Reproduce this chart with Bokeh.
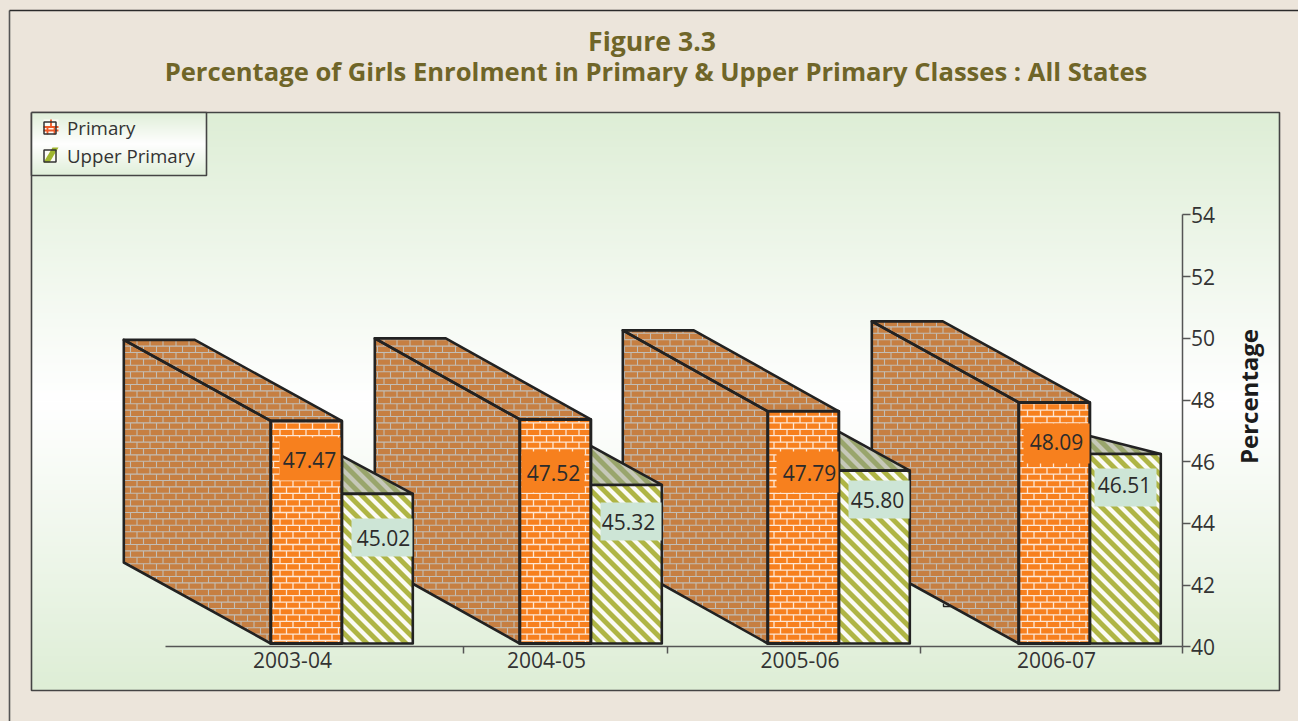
import numpy as np
from bokeh.core.properties import value
from bokeh.embed import file_html
from bokeh.models import ColumnDataSource, FixedTicker, Legend, LegendItem, LinearAxis, Range1d
from bokeh.plotting import figure
from bokeh.resources import INLINE

# ---- data ----
years = ["2003-04", "2004-05", "2005-06", "2006-07"]
primary = [47.47, 47.52, 47.79, 48.09]
upper = [45.02, 45.32, 45.80, 46.36]      # bar heights as drawn
primary_labels = ["47.47", "47.52", "47.79", "48.09"]
upper_labels = ["45.02", "45.32", "45.80", "46.51"]
y_ticks = [40, 42, 44, 46, 48, 50, 52, 54]

# ---- layout (page pixels) ----
W, H = 1298, 721
BEIGE = "#ece5db"
INK = "#222222"
bar_left = [270.3, 519.3, 767.3, 1018.3]
bar_w = 71
depth_dx = [-147, -145, -145, -147]
dy_px = 81
tri_rise = [38, 39, 39, 18]
year_x = [292, 546, 799.5, 1056]
sep_x = [462.5, 666.5, 919.5]
AX_X = 1181.5
prim_box = [(279, 340, 437, 480), (521, 584, 451, 492), (776, 838, 451, 492), (1023, 1089, 423, 463)]
prim_txt = [(309, 459), (553, 472), (809, 472), (1056, 441)]
up_box = [(351, 412, 518, 556), (600, 661, 502, 540), (848, 909, 480, 518), (1094, 1156, 468, 506)]
up_txt = [(383, 537), (628, 521), (877, 499), (1124, 484)]

axis_k = (646.4 - 214.4) / 14.0
front_k = 29.8
y0 = 40 - (H - 646.4) / axis_k
y1 = 40 + 646.4 / axis_k
f0 = 40 - (H - 643) / front_k
f1 = 40 + 643 / front_k


def fy(v):
    """Page y of a height on the front plane of the bars."""
    return 643 - (v - 40) * front_k


p = figure(width=W, height=H, x_range=Range1d(0, W), y_range=Range1d(y0, y1),
           output_backend="svg", toolbar_location=None, x_axis_type=None, y_axis_type=None,
           min_border=0, outline_line_color=None, background_fill_color=BEIGE,
           border_fill_color=BEIGE)
p.xgrid.visible = False
p.ygrid.visible = False
p.extra_y_ranges = {"front": Range1d(f0, f1), "page": Range1d(H, 0)}


# ---- clipping helpers for the surface patterns ----
def clip_poly(subject, clipper):
    out = list(subject)
    n = len(clipper)
    area = sum(clipper[i][0] * clipper[(i + 1) % n][1] - clipper[(i + 1) % n][0] * clipper[i][1] for i in range(n))
    sgn = 1 if area > 0 else -1
    for i in range(n):
        a, b = clipper[i], clipper[(i + 1) % n]
        def side(q):
            return sgn * ((b[0] - a[0]) * (q[1] - a[1]) - (b[1] - a[1]) * (q[0] - a[0]))
        cur, out = out, []
        for j in range(len(cur)):
            s, e = cur[j], cur[(j + 1) % len(cur)]
            ss, se = side(s), side(e)
            if ss >= 0:
                out.append(s)
            if (ss >= 0) != (se >= 0):
                t = ss / (ss - se)
                out.append((s[0] + t * (e[0] - s[0]), s[1] + t * (e[1] - s[1])))
        if not out:
            return []
    return out


def clip_seg(a, b, poly):
    t0, t1 = 0.0, 1.0
    n = len(poly)
    area = sum(poly[i][0] * poly[(i + 1) % n][1] - poly[(i + 1) % n][0] * poly[i][1] for i in range(n))
    sgn = 1 if area > 0 else -1
    d = (b[0] - a[0], b[1] - a[1])
    for i in range(n):
        c, e = poly[i], poly[(i + 1) % n]
        nx, ny = -(e[1] - c[1]) * sgn, (e[0] - c[0]) * sgn
        num = nx * (a[0] - c[0]) + ny * (a[1] - c[1])
        den = nx * d[0] + ny * d[1]
        if abs(den) < 1e-9:
            if num < 0:
                return None
        else:
            t = -num / den
            if den > 0:
                t0 = max(t0, t)
            else:
                t1 = min(t1, t)
    if t0 >= t1:
        return None
    return (a[0] + t0 * d[0], a[1] + t0 * d[1]), (a[0] + t1 * d[0], a[1] + t1 * d[1])


def brick_segments(polys, bh=6.4, bw=13.0):
    x0s, y0s, x1s, y1s = [], [], [], []
    for poly in polys:
        xmin, xmax = min(q[0] for q in poly), max(q[0] for q in poly)
        ymin, ymax = min(q[1] for q in poly), max(q[1] for q in poly)
        r0 = int(np.floor(ymin / bh))
        r1 = int(np.ceil(ymax / bh))
        for r in range(r0, r1 + 1):
            yy = r * bh
            s = clip_seg((xmin, yy), (xmax, yy), poly)
            if s:
                x0s.append(s[0][0]); y0s.append(s[0][1]); x1s.append(s[1][0]); y1s.append(s[1][1])
            off = (r % 2) * bw / 2
            c = np.floor(xmin / bw) - 1
            while c * bw + off <= xmax:
                xx = c * bw + off
                s = clip_seg((xx, yy), (xx, yy + bh), poly)
                if s:
                    x0s.append(s[0][0]); y0s.append(s[0][1]); x1s.append(s[1][0]); y1s.append(s[1][1])
                c += 1
    return x0s, y0s, x1s, y1s


def stripe_polys(polys, period=13.0, width=6.0):
    xs, ys = [], []
    for poly in polys:
        xmin, xmax = min(q[0] for q in poly), max(q[0] for q in poly)
        ymin, ymax = min(q[1] for q in poly), max(q[1] for q in poly)
        k0 = int(np.floor((xmin - ymax) / period)) - 1
        k1 = int(np.ceil((xmax - ymin) / period)) + 1
        for k in range(k0, k1 + 1):
            c = k * period            # band: c <= x - y <= c + width
            band = [(ymin - 5 + c, ymin - 5), (ymin - 5 + c + width, ymin - 5),
                    (ymax + 5 + c + width, ymax + 5), (ymax + 5 + c, ymax + 5)]
            q = clip_poly(band, poly)
            if q:
                xs.append([a[0] for a in q]); ys.append([a[1] for a in q])
    return xs, ys


# ---- panel background ----
grad_rows = 289
c_g = np.array([222, 238, 214])
img = np.zeros((grad_rows, 1), dtype=np.uint32)
view = img.view(np.uint8).reshape((grad_rows, 1, 4))
for i in range(grad_rows):
    mix = min(abs(i / (grad_rows - 1) - 0.5) / 0.5, 1) ** 1.05
    view[i, 0, :3] = (255 + (c_g - 255) * mix).astype(np.uint8)
    view[i, 0, 3] = 255
p.image_rgba(image=[img], x=31, y=112, dw=1248, dh=578, y_range_name="page")
p.multi_line(xs=[[31, 31, 1279, 1279, 31]], ys=[[112, 690, 690, 112, 112]], y_range_name="page",
             line_color="#444444", line_width=1.6)
# outer frame
p.segment(x0=[9], y0=[10], x1=[9], y1=[721], y_range_name="page", line_color="#555555", line_width=1.6)
p.segment(x0=[9], y0=[10], x1=[1298], y1=[10], y_range_name="page", line_color="#2a2a2a", line_width=1.6)

# legend box background
lg_rows = 32
lg = np.zeros((lg_rows, 1), dtype=np.uint32)
lgv = lg.view(np.uint8).reshape((lg_rows, 1, 4))
for i in range(lg_rows):
    frac = i / (lg_rows - 1)                 # 0 = bottom row of the array
    mix = min(abs(frac - 0.5) / 0.5, 1)
    lgv[i, 0, :3] = (255 + (np.array([224, 240, 218]) - 255) * mix).astype(np.uint8)
    lgv[i, 0, 3] = 255
p.image_rgba(image=[lg], x=31, y=112, dw=175, dh=63, y_range_name="page")
p.multi_line(xs=[[31, 31, 206, 206, 31]], ys=[[112, 175, 175, 112, 112]], y_range_name="page",
             line_color="#444444", line_width=1.6)

# ---- axes ----
yaxis = LinearAxis(fixed_location=AX_X, ticker=FixedTicker(ticks=y_ticks), bounds=(40, 54))
yaxis.major_tick_in = 0
yaxis.major_tick_out = 8
yaxis.minor_tick_line_color = None
yaxis.axis_line_color = "#555555"
yaxis.axis_line_width = 1.5
yaxis.major_tick_line_color = "#555555"
yaxis.major_tick_line_width = 1.5
yaxis.major_label_text_font = "Open Sans"
yaxis.major_label_text_font_size = "21px"
yaxis.major_label_text_color = "#333333"
yaxis.major_label_standoff = 1
yaxis.major_label_orientation = "horizontal"
p.add_layout(yaxis, "right")

xaxis = LinearAxis(fixed_location=40, bounds=(165, AX_X),
                   ticker=FixedTicker(ticks=year_x, minor_ticks=sep_x + [AX_X]))
xaxis.major_label_overrides = dict(zip(year_x, years))
xaxis.major_tick_line_color = None
xaxis.major_tick_in = 0
xaxis.major_tick_out = 0
xaxis.minor_tick_in = 0
xaxis.minor_tick_out = 7
xaxis.minor_tick_line_color = "#555555"
xaxis.minor_tick_line_width = 1.5
xaxis.axis_line_color = "#555555"
xaxis.axis_line_width = 1.5
xaxis.major_label_text_font = "Open Sans"
xaxis.major_label_text_font_size = "21px"
xaxis.major_label_text_color = "#333333"
xaxis.major_label_standoff = -2
p.add_layout(xaxis, "below")

# ---- 3-D bars ----
depth = dy_px / front_k
xs_wall, ys_wall, xs_top, ys_top, xs_tri, ys_tri = [], [], [], [], [], []
for l, v, u, r, dx_px in zip(bar_left, primary, upper, tri_rise, depth_dx):
    xs_wall.append([l + dx_px, l, l, l + dx_px])
    ys_wall.append([v + depth, v, 40, 40 + depth])
    xs_top.append([l, l + bar_w, l + bar_w + dx_px, l + dx_px])
    ys_top.append([v, v, v + depth, v + depth])
    m = l + bar_w
    xs_tri.append([m, m + bar_w, m])
    ys_tri.append([u + r / front_k, u, u])

up_l = [l + bar_w for l in bar_left]
up_r = [l + 2 * bar_w for l in bar_left]


def page_polys(xss, yss):
    return [[(x, fy(y)) for x, y in zip(xs, ys)] for xs, ys in zip(xss, yss)]


def rect_polys(ls, rs, vs):
    return [[(a, fy(40)), (b, fy(40)), (b, fy(v)), (a, fy(v))] for a, b, v in zip(ls, rs, vs)]


line_kw = dict(line_color=INK, line_width=2.6, line_join="round")
seg_kw = dict(y_range_name="page", line_cap="butt")

# walls and tops of the primary bars
p.patches(xs_wall + xs_top, ys_wall + ys_top, y_range_name="front", fill_color="#c67f42", line_color=None)
x0s, y0s, x1s, y1s = brick_segments(page_polys(xs_wall + xs_top, ys_wall + ys_top))
p.segment(x0s, y0s, x1s, y1s, line_color="#c2bdb5", line_width=1.1, **seg_kw)
p.patches(xs_wall + xs_top, ys_wall + ys_top, y_range_name="front", fill_alpha=0, **line_kw)

# visible part of the top of the upper-primary bars
p.patches(xs_tri, ys_tri, y_range_name="front", fill_color="#99a56c", line_color=None)
sx, sy = stripe_polys(page_polys(xs_tri, ys_tri))
p.patches(sx, sy, y_range_name="page", fill_color="#c6c8b8", line_color=None)
p.patches(xs_tri, ys_tri, y_range_name="front", fill_alpha=0, **line_kw)

# upper-primary fronts
p.quad(left=up_l, right=up_r, bottom=[40] * 4, top=upper, y_range_name="front", fill_color="#afb545", line_color=None)
sx, sy = stripe_polys(rect_polys(up_l, up_r, upper))
p.patches(sx, sy, y_range_name="page", fill_color="#fbfbf5", line_color=None)
p.quad(left=up_l, right=up_r, bottom=[40] * 4, top=upper, y_range_name="front", fill_alpha=0, **line_kw)

# primary fronts
p.quad(left=bar_left, right=up_l, bottom=[40] * 4, top=primary, y_range_name="front", fill_color="#f7801e", line_color=None)
x0s, y0s, x1s, y1s = brick_segments(rect_polys(bar_left, up_l, primary))
p.segment(x0s, y0s, x1s, y1s, line_color="#fde6d4", line_width=1.3, **seg_kw)
p.quad(left=bar_left, right=up_l, bottom=[40] * 4, top=primary, y_range_name="front", fill_alpha=0,
       line_color=INK, line_width=3, line_join="round")

# small stray mark
p.line(x=[943, 943, 950], y=[603, 606, 606], y_range_name="page", line_color=INK, line_width=1.4)

# ---- value labels ----
p.quad(left=[b[0] for b in prim_box], right=[b[1] for b in prim_box],
       top=[b[2] for b in prim_box], bottom=[b[3] for b in prim_box], y_range_name="page",
       fill_color="#f7801e", line_color=None)
p.quad(left=[b[0] for b in up_box], right=[b[1] for b in up_box],
       top=[b[2] for b in up_box], bottom=[b[3] for b in up_box], y_range_name="page",
       fill_color="#cde5d6", line_color=None)
lab_kw = dict(text_font=value("Open Sans"), text_font_size="21px", text_color="#2b2b2b",
              text_align="center", text_baseline="middle", y_range_name="page")
p.text(x=[a[0] for a in prim_txt], y=[a[1] for a in prim_txt], text=primary_labels, **lab_kw)
p.text(x=[a[0] for a in up_txt], y=[a[1] for a in up_txt], text=upper_labels, **lab_kw)

# ---- titles ----
ttl = dict(text_font=value("Open Sans"), text_font_style="bold", text_color="#6f6528",
           text_align="center", text_baseline="middle", y_range_name="page")
p.text(x=[651.5], y=[40], text=["Figure 3.3"], text_font_size="26.6px", **ttl)
p.text(x=[655.5], y=[70.5], text=["Percentage of Girls Enrolment in Primary & Upper Primary Classes : All States"],
       text_font_size="25.6px", **ttl)
p.text(x=[1248], y=[396], text=["Percentage"], angle=np.pi / 2, text_font=value("Open Sans"),
       text_font_style="bold", text_font_size="24px", text_color="#1c1c1c",
       text_align="center", text_baseline="middle", y_range_name="page")

# ---- legend ----
p.quad(left=[43, 43], right=[58, 58], top=[119, 147], bottom=[134, 162], y_range_name="page",
       fill_color="#fbfbf5", line_color=None)
p.segment(x0=[43, 50.5, 43, 47, 54], y0=[126.5, 119, 130, 126.5, 126.5], x1=[58, 50.5, 58, 47, 54], y1=[126.5, 126.5, 130, 134, 134],
          y_range_name="page", line_color="#ef5a28", line_width=1.8)
p.patches(xs=[[43, 52, 58, 49]], ys=[[162, 147, 147, 162]], y_range_name="page", fill_color="#9fb52f", line_color=None)
empty = ColumnDataSource(dict(l=[-50], r=[-40], b=[40], t=[41]))
r1 = p.quad(left="l", right="r", bottom="b", top="t", source=empty, fill_alpha=0, line_color="#333333", line_width=1.5)
r2 = p.quad(left="l", right="r", bottom="b", top="t", source=empty, fill_alpha=0, line_color="#333333", line_width=1.5)
legend = Legend(items=[LegendItem(label=value("Primary"), renderers=[r1]),
                       LegendItem(label=value("Upper Primary"), renderers=[r2])],
                location=(42, 553), background_fill_alpha=0, border_line_color=None,
                label_text_font="Open Sans", label_text_font_size="18.7px",
                label_text_color="#333333", glyph_width=15, glyph_height=15, padding=12,
                spacing=3, label_standoff=10, margin=0)
p.add_layout(legend, "center")

html = file_html(p, INLINE)
html = html.replace("<head>", f"<head><style>html,body{{background:{BEIGE};overflow:hidden;margin:0}}</style>", 1)
open("out.html", "w").write(html)
